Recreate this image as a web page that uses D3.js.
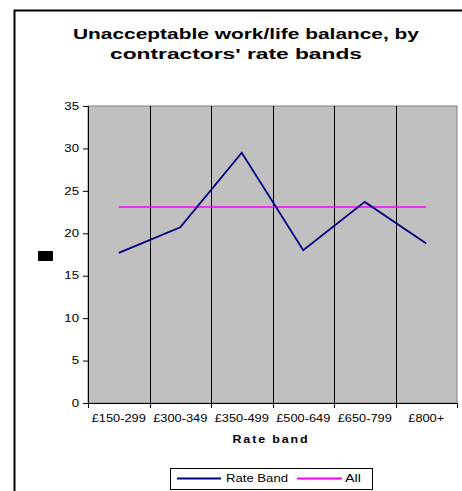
<!DOCTYPE html>
<html>
<head>
<meta charset="utf-8">
<script src="https://cdn.jsdelivr.net/npm/d3@7"></script>
<style>
  body { margin: 0; background: #fff; }
  text { font-family: Arial, "Liberation Sans", sans-serif; }
</style>
</head>
<body>
<div id="box1"></div>
<script>
var bands = ["£150-299", "£300-349", "£350-499", "£500-649", "£650-799", "£800+"];
var rateBand = [17.7, 20.7, 29.5, 18.0, 23.7, 18.8];
var all = [23.1, 23.1, 23.1, 23.1, 23.1, 23.1];
var yTicks = [0, 5, 10, 15, 20, 25, 30, 35];

document.addEventListener("DOMContentLoaded", function(e) {
    chart1();
});

// the original output has horizontally stretched glyphs
function stretch(sel, k){
    sel.each(function(){
        var len = this.getComputedTextLength();
        d3.select(this)
            .attr("textLength", len * k)
            .attr("lengthAdjust", "spacingAndGlyphs");
    });
}

function chart1(){
    var width = 462;
    var height = 491;
    var left = 88, right = 457, top = 106, bottom = 403;

    var svg = d3.select("#box1")
        .append("svg")
        .attr("width", width)
        .attr("height", height);

    // chart frame (clipped at right/bottom)
    svg.append("path")
        .attr("d", "M14.5," + height + "V10.5H" + width)
        .attr("fill", "none")
        .attr("stroke", "#000")
        .attr("stroke-width", 2);

    // title
    svg.append("text")
        .attr("x", 246).attr("y", 39)
        .attr("text-anchor", "middle")
        .attr("font-size", 15).attr("font-weight", "bold")
        .attr("textLength", 346).attr("lengthAdjust", "spacingAndGlyphs")
        .text("Unacceptable work/life balance, by");
    svg.append("text")
        .attr("x", 236).attr("y", 59)
        .attr("text-anchor", "middle")
        .attr("font-size", 15).attr("font-weight", "bold")
        .attr("textLength", 252).attr("lengthAdjust", "spacingAndGlyphs")
        .text("contractors' rate bands");

    var x = d3.scaleBand().domain(bands).range([left, right]).padding(0);
    var y = d3.scaleLinear().domain([0, 35]).range([bottom, top]);

    // plot area
    svg.append("rect")
        .attr("x", left).attr("y", top)
        .attr("width", right - left).attr("height", bottom - top)
        .attr("fill", "#c0c0c0")
        .attr("stroke", "#808080");

    // vertical gridlines at category boundaries
    for (var i = 1; i < bands.length; i++){
        var gx = Math.round(x(bands[i])) + 0.5;
        svg.append("line")
            .attr("x1", gx).attr("x2", gx)
            .attr("y1", top).attr("y2", bottom)
            .attr("stroke", "#000");
    }

    // y axis
    var yAxis = d3.axisLeft(y).tickValues(yTicks).tickSize(5).tickPadding(4);
    var gy = svg.append("g")
        .attr("transform", "translate(" + left + ",0)")
        .call(yAxis);
    gy.select(".domain").attr("stroke", "#000");
    gy.selectAll("text").attr("font-size", 10)
        .attr("font-family", "Arial, Liberation Sans, sans-serif")
        .call(stretch, 1.32);

    // x axis: ticks at band boundaries
    svg.append("line")
        .attr("x1", left).attr("x2", right)
        .attr("y1", bottom + 0.5).attr("y2", bottom + 0.5)
        .attr("stroke", "#000");
    var bounds = bands.map(function(b){ return x(b); }).concat([right]);
    svg.selectAll(".xtick")
        .data(bounds)
        .enter().append("line")
        .attr("x1", function(d){ return Math.round(d) + 0.5; })
        .attr("x2", function(d){ return Math.round(d) + 0.5; })
        .attr("y1", bottom).attr("y2", bottom + 5)
        .attr("stroke", "#000");
    svg.selectAll(".xlab")
        .data(bands)
        .enter().append("text")
        .attr("x", function(d){ return x(d) + x.bandwidth() / 2; })
        .attr("y", 422)
        .attr("text-anchor", "middle")
        .attr("font-size", 10)
        .text(function(d){ return d; })
        .call(stretch, 1.28);

    svg.append("text")
        .attr("x", 271).attr("y", 443)
        .attr("text-anchor", "middle")
        .attr("font-size", 10).attr("font-weight", "bold")
        .attr("letter-spacing", 1.5)
        .attr("textLength", 77).attr("lengthAdjust", "spacingAndGlyphs")
        .text("Rate band");

    // y axis title placeholder (black block)
    svg.append("rect")
        .attr("x", 38).attr("y", 251)
        .attr("width", 15).attr("height", 10)
        .attr("fill", "#000");

    // lines
    var line = d3.line()
        .x(function(d, i){ return x(bands[i]) + x.bandwidth() / 2; })
        .y(function(d){ return y(d); });

    svg.append("path")
        .datum(all)
        .attr("d", line)
        .attr("fill", "none")
        .attr("stroke", "#ff00ff")
        .attr("stroke-width", 1.5);

    svg.append("path")
        .datum(rateBand)
        .attr("d", line)
        .attr("fill", "none")
        .attr("stroke", "#000080")
        .attr("stroke-width", 1.8);

    // legend
    svg.append("rect")
        .attr("x", 170.5).attr("y", 468.5)
        .attr("width", 202).attr("height", 21)
        .attr("fill", "#fff").attr("stroke", "#000");
    svg.append("line")
        .attr("x1", 177).attr("x2", 221).attr("y1", 478.5).attr("y2", 478.5)
        .attr("stroke", "#000080").attr("stroke-width", 1.8);
    svg.append("text")
        .attr("x", 226).attr("y", 482)
        .attr("font-size", 10)
        .attr("textLength", 62).attr("lengthAdjust", "spacingAndGlyphs")
        .text("Rate Band");
    svg.append("line")
        .attr("x1", 297).attr("x2", 342).attr("y1", 478.5).attr("y2", 478.5)
        .attr("stroke", "#ff00ff").attr("stroke-width", 1.8);
    svg.append("text")
        .attr("x", 345).attr("y", 482)
        .attr("font-size", 10)
        .attr("textLength", 16).attr("lengthAdjust", "spacingAndGlyphs")
        .text("All");
}
</script>
</body>
</html>
